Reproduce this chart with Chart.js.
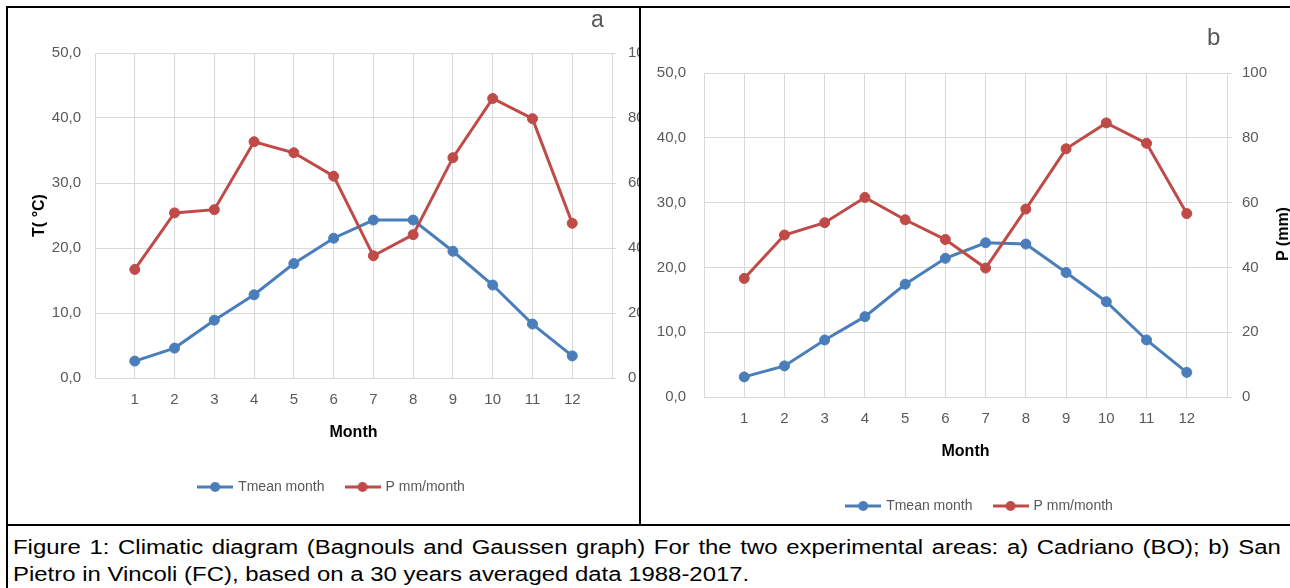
<!DOCTYPE html>
<html>
<head>
<meta charset="utf-8">
<script src="https://cdn.jsdelivr.net/npm/chart.js@4.4.1/dist/chart.umd.min.js"></script>
<style>
  html, body { margin: 0; padding: 0; background: #fff; }
  body { width: 1290px; height: 588px; overflow: hidden; position: relative; font-family: "Liberation Sans", Arial, sans-serif; }
  .rule { position: absolute; background: #000; }
  .cell { position: absolute; overflow: hidden; }
  .cell canvas { display: block; }
  .tag { position: absolute; font-size: 23px; line-height: 1; color: #595959; }
  .ytitle { position: absolute; font-weight: bold; font-size: 16px; color: #000; white-space: nowrap; transform: translate(-50%, -50%) rotate(-90deg); }
  .caption { position: absolute; left: 13px; width: 1060px; font-size: 20px; line-height: 27px; color: #000; white-space: nowrap;
             text-align: justify; text-align-last: justify; transform: scaleX(1.196); transform-origin: 0 0; }
</style>
</head>
<body>
<!-- table frame -->
<div class="rule" style="left:6px;top:6px;width:1290px;height:2px"></div>
<div class="rule" style="left:6px;top:6px;width:2px;height:590px"></div>
<div class="rule" style="left:639px;top:6px;width:2px;height:519px"></div>
<div class="rule" style="left:6px;top:524px;width:1290px;height:2px"></div>

<div class="cell" style="left:8px;top:8px;width:631px;height:516px"><canvas id="chart-a" width="648" height="515"></canvas></div>
<div class="cell" style="left:641px;top:8px;width:649px;height:516px"><canvas id="chart-b" width="678" height="515"></canvas></div>

<div class="tag" style="left:591px;top:8px">a</div>
<div class="tag" style="left:1207px;top:25px;font-size:24px">b</div>
<div class="ytitle" style="left:1283px;top:234px">P (mm)</div>

<div class="caption" style="top:534px">Figure 1: Climatic diagram (Bagnouls and Gaussen graph) For the two experimental areas: a) Cadriano (BO); b) San</div>
<div class="caption" style="top:561px;text-align:left;text-align-last:left">Pietro in Vincoli (FC), based on a 30 years averaged data 1988-2017.</div>

<script>
// dati
const months = [1, 2, 3, 4, 5, 6, 7, 8, 9, 10, 11, 12];
const tempA = [2.6, 4.6, 8.9, 12.8, 17.6, 21.5, 24.3, 24.3, 19.5, 14.3, 8.3, 3.4];
const rainA = [33.4, 50.8, 51.8, 72.7, 69.3, 62.1, 37.6, 44.1, 67.8, 86.0, 79.8, 47.6];
const tempB = [3.1, 4.8, 8.8, 12.4, 17.4, 21.4, 23.8, 23.6, 19.2, 14.7, 8.8, 3.8];
const rainB = [36.6, 50.0, 53.8, 61.6, 54.7, 48.6, 39.8, 58.0, 76.6, 84.6, 78.3, 56.6];
const tempTicks = [0, 10, 20, 30, 40, 50];
const rainTicks = [0, 20, 40, 60, 80, 100];

const BLUE = '#4a7ebb';
const RED = '#be4b48';
const GRID = '#d9d9d9';
const TEXT = '#595959';

Chart.defaults.font.family = '"Liberation Sans", Arial, sans-serif';
Chart.defaults.color = TEXT;

// marker della legenda: linea con pallino
function legendMarker(color) {
    const c = document.createElement('canvas');
    c.width = 36;
    c.height = 12;
    const g = c.getContext('2d');
    g.strokeStyle = color;
    g.lineWidth = 3;
    g.beginPath();
    g.moveTo(0, 6);
    g.lineTo(36, 6);
    g.stroke();
    g.fillStyle = color;
    g.beginPath();
    g.arc(18, 6, 5, 0, Math.PI * 2);
    g.fill();
    return c;
}
const markers = [legendMarker(BLUE), legendMarker(RED)];

function points(values) {
    return months.map((m, i) => ({ x: m, y: values[i] }));
}

function makeChart(id, temp, rain, geo) {
    return new Chart(document.getElementById(id), {
        type: 'line',
        data: {
            datasets: [{
                label: 'Tmean month',
                data: points(temp),
                borderColor: BLUE,
                backgroundColor: BLUE,
                borderWidth: 3,
                pointRadius: 5,
                pointBorderWidth: 1,
                yAxisID: 'y',
                order: 1
            }, {
                label: 'P mm/month',
                data: points(rain),
                borderColor: RED,
                backgroundColor: RED,
                borderWidth: 3,
                pointRadius: 5,
                pointBorderWidth: 1,
                yAxisID: 'y2',
                order: 0
            }]
        },
        options: {
            responsive: false,
            animation: false,
            events: [],
            layout: { padding: { top: geo.padTop, bottom: geo.padBottom, left: 0, right: 0 } },
            plugins: {
                tooltip: { enabled: false },
                legend: {
                    position: 'bottom',
                    labels: {
                        usePointStyle: true,
                        pointStyleWidth: 32,
                        padding: 22,
                        color: TEXT,
                        font: { size: 14 },
                        sort: (a, b) => a.datasetIndex - b.datasetIndex,
                        generateLabels: chart => Chart.defaults.plugins.legend.labels.generateLabels(chart)
                            .map(item => Object.assign(item, { pointStyle: markers[item.datasetIndex] }))
                    }
                }
            },
            scales: {
                x: {
                    type: 'linear',
                    min: 0,
                    max: months.length + 1,
                    afterBuildTicks: s => { s.ticks = [0].concat(months, [months.length + 1]).map(v => ({ value: v })); },
                    ticks: {
                        padding: 13,
                        font: { size: 15 },
                        callback: v => months.includes(v) ? String(v) : ''
                    },
                    grid: { color: GRID, drawTicks: false },
                    border: { color: GRID },
                    title: {
                        display: true,
                        text: 'Month',
                        color: '#000',
                        font: { size: 16, weight: 'bold' },
                        padding: { top: 0, bottom: 16 }
                    },
                    afterFit: s => { s.height = 80; }
                },
                y: {
                    position: 'left',
                    min: tempTicks[0],
                    max: tempTicks[tempTicks.length - 1],
                    afterBuildTicks: s => { s.ticks = tempTicks.map(v => ({ value: v })); },
                    ticks: {
                        padding: geo.leftPad,
                        font: { size: 15 },
                        callback: v => v.toFixed(1).replace('.', ',')
                    },
                    grid: { color: GRID, drawTicks: false },
                    border: { color: GRID },
                    title: {
                        display: geo.leftTitle,
                        text: 'T( °C)',
                        color: '#000',
                        font: { size: 16, weight: 'bold' },
                        padding: { top: 22, bottom: 0 }
                    },
                    afterFit: s => { s.width = geo.leftW; }
                },
                y2: {
                    position: 'right',
                    min: rainTicks[0],
                    max: rainTicks[rainTicks.length - 1],
                    afterBuildTicks: s => { s.ticks = rainTicks.map(v => ({ value: v })); },
                    ticks: {
                        padding: geo.rightPad,
                        font: { size: 15 }
                    },
                    grid: { color: GRID, drawOnChartArea: false, tickLength: geo.tickLen },
                    border: { color: GRID },
                    afterFit: s => { s.width = geo.rightW; }
                }
            }
        }
    });
}

makeChart('chart-a', tempA, rainA, {
    padTop: 45, padBottom: 19, leftW: 87, rightW: 44, leftPad: 14, rightPad: 12, tickLen: 4, leftTitle: true
});
makeChart('chart-b', tempB, rainB, {
    padTop: 65, padBottom: 0, leftW: 63, rightW: 92, leftPad: 18, rightPad: 10, tickLen: 5, leftTitle: false
});
</script>
</body>
</html>
